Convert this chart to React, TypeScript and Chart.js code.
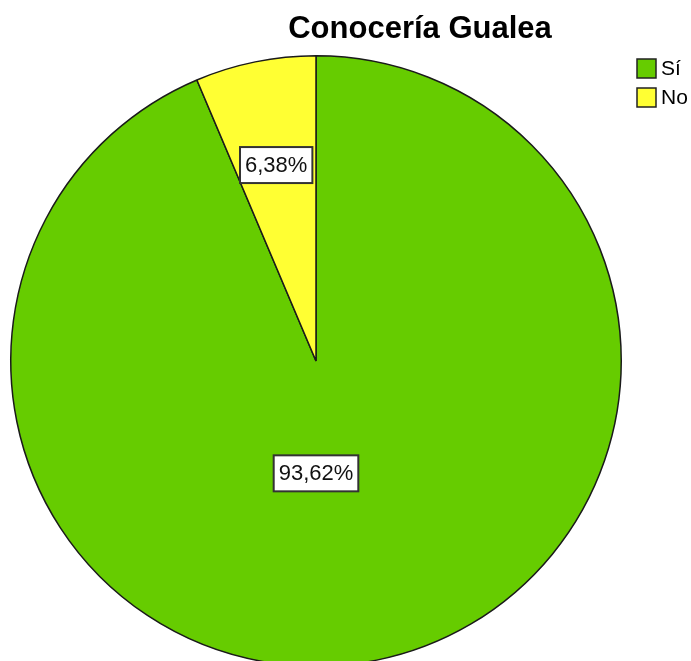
import React, { useEffect, useRef } from "react";
import { Chart, registerables } from "chart.js";

Chart.register(...registerables);

const categories = ["Sí", "No"];
const percentages = [93.62, 6.38];
const colors = ["#66cc00", "#ffff33"];
const titleText = "Conocería Gualea";

const fmt = (v: number) => v.toFixed(2).replace(".", ",") + "%";

const overlayPlugin = {
  id: "overlay",
  afterDatasetsDraw(chart: any) {
    const ctx = chart.ctx as CanvasRenderingContext2D;
    const meta = chart.getDatasetMeta(0);
    const opts = chart.options.plugins.overlay;
    ctx.save();
    ctx.font = `${opts.labelFontSize}px "Liberation Sans", Arial, sans-serif`;
    ctx.textAlign = "center";
    ctx.textBaseline = "middle";
    meta.data.forEach((arc: any, i: number) => {
      const p = arc.getProps(["x", "y", "startAngle", "endAngle", "outerRadius"], true);
      const place = opts.placement[i];
      const ang = place.angle !== undefined ? place.angle : (p.startAngle + p.endAngle) / 2;
      const cx = p.x + Math.cos(ang) * place.frac * p.outerRadius;
      const cy = p.y + Math.sin(ang) * place.frac * p.outerRadius;
      const text = fmt(chart.data.datasets[0].data[i]);
      const w = ctx.measureText(text).width + 2 * opts.padX;
      const h = opts.labelFontSize + 2 * opts.padY;
      ctx.fillStyle = "#ffffff";
      ctx.fillRect(cx - w / 2, cy - h / 2, w, h);
      ctx.lineWidth = 2;
      ctx.strokeStyle = "#333333";
      ctx.strokeRect(cx - w / 2, cy - h / 2, w, h);
      ctx.fillStyle = "#111111";
      ctx.fillText(text, cx, cy + 1);
    });
    ctx.restore();
  },
  afterDraw(chart: any) {
    const ctx = chart.ctx as CanvasRenderingContext2D;
    const opts = chart.options.plugins.overlay;
    ctx.save();
    ctx.font = `bold 31px "Liberation Sans", Arial, sans-serif`;
    ctx.textAlign = "center";
    ctx.textBaseline = "alphabetic";
    ctx.fillStyle = "#000000";
    ctx.fillText(titleText, opts.titleX, opts.titleY);
    ctx.font = `21px "Liberation Sans", Arial, sans-serif`;
    ctx.textAlign = "left";
    ctx.textBaseline = "middle";
    categories.forEach((c, i) => {
      const y = opts.legendY + i * opts.legendStep;
      ctx.fillStyle = colors[i];
      ctx.fillRect(opts.legendX, y, opts.box, opts.box);
      ctx.lineWidth = 1.5;
      ctx.strokeStyle = "#222222";
      ctx.strokeRect(opts.legendX, y, opts.box, opts.box);
      ctx.fillStyle = "#000000";
      ctx.fillText(c, opts.legendX + opts.box + 5, y + opts.box / 2 + 1);
    });
    ctx.restore();
  },
};

export default function App() {
  const ref = useRef<HTMLCanvasElement>(null);
  useEffect(() => {
    if (!ref.current) return;
    const chart = new Chart(ref.current, {
      type: "pie",
      data: {
        labels: categories,
        datasets: [
          {
            data: percentages,
            backgroundColor: colors,
            borderColor: "#1a1a1a",
            borderWidth: 1.5,
          },
        ],
      },
      options: {
        responsive: false,
        animation: false,
        devicePixelRatio: 1,
        layout: { padding: { left: 10, right: 69, top: 55, bottom: 55 } },
        plugins: {
          legend: { display: false },
          title: { display: false },
          tooltip: { enabled: false },
          overlay: {
            labelFontSize: 22,
            padX: 5,
            padY: 7,
            placement: [
              { angle: Math.PI / 2, frac: 0.368 },
              { frac: 0.655 },
            ],
            titleX: 420,
            titleY: 38,
            legendX: 637,
            legendY: 59,
            legendStep: 29,
            box: 19,
          },
        } as any,
      },
      plugins: [overlayPlugin],
    });
    return () => chart.destroy();
  }, []);
  return (
    <div
      style={{
        position: "fixed",
        left: 0,
        top: 0,
        width: 691,
        height: 661,
        overflow: "hidden",
        background: "#ffffff",
      }}
    >
      <canvas ref={ref} width={691} height={722} style={{ display: "block" }} />
    </div>
  );
}
